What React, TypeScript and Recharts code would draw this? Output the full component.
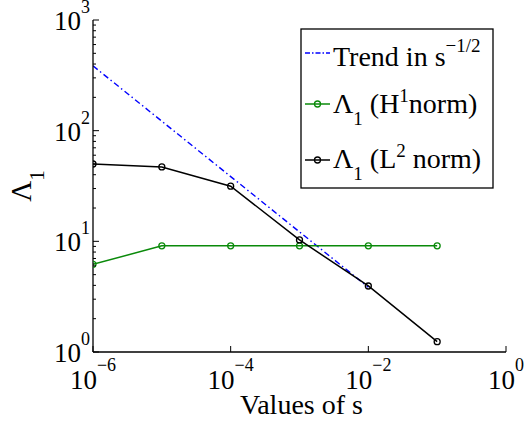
import React from 'react';
import { LineChart, Line, XAxis, YAxis } from 'recharts';

// values of s (x axis, log)
const sValues = [1e-6, 1e-5, 1e-4, 1e-3, 1e-2, 1e-1];
// Lambda_1 in H1 norm (green)
const h1Norm = [6.2, 9.1, 9.1, 9.1, 9.1, 9.1];
// Lambda_1 in L2 norm (black)
const l2Norm = [50, 47, 31.5, 10.3, 3.95, 1.24];
// reference trend in s^-1/2 (blue dash-dot)
const trendS = [1e-6, 1e-2];
const trendValues = [385, 3.85];

const xTicks = [1e-6, 1e-4, 1e-2, 1];
const xTickExp = ['\u22126', '\u22124', '\u22122', '0'];
const yTicks = [
  1, 2, 3, 4, 5, 6, 7, 8, 9,
  10, 20, 30, 40, 50, 60, 70, 80, 90,
  100, 200, 300, 400, 500, 600, 700, 800, 900,
  1000,
];
const yMajor = [1, 10, 100, 1000];
const yTickExp = ['0', '1', '2', '3'];

const serif = { fontFamily: 'Liberation Serif' };
const GREEN = '#0a8a0a';
const BLUE = '#0000ff';

const h1Data = sValues.map((s, i) => ({ s, v: h1Norm[i] }));
const l2Data = sValues.map((s, i) => ({ s, v: l2Norm[i] }));
const trendData = trendS.map((s, i) => ({ s, v: trendValues[i] }));

const LeftTick = (props: any) => {
  const { x, y, payload } = props;
  const i = yMajor.indexOf(payload.value);
  const major = i >= 0;
  return (
    <g>
      <line x1={x} x2={x + (major ? 6 : 3)} y1={y} y2={y} stroke="#000" strokeWidth={1} />
      {major && (
        <text x={x - 3} y={y + 10} textAnchor="end" style={serif} fontSize={27} fill="#000">
          10<tspan dy={-17} fontSize={18}>{yTickExp[i]}</tspan>
        </text>
      )}
    </g>
  );
};

const RightTick = (props: any) => {
  const { x, y, payload } = props;
  const major = yMajor.indexOf(payload.value) >= 0;
  return <line x1={x} x2={x - (major ? 6 : 3)} y1={y} y2={y} stroke="#000" strokeWidth={1} />;
};

const BottomTick = (props: any) => {
  const { x, y, payload } = props;
  const i = xTicks.indexOf(payload.value);
  return (
    <g>
      <line x1={x} x2={x} y1={y} y2={y - 6} stroke="#000" strokeWidth={1} />
      <text x={x} y={y + 37} textAnchor="middle" style={serif} fontSize={27} fill="#000">
        10<tspan dy={-18} fontSize={18}>{xTickExp[i]}</tspan>
      </text>
    </g>
  );
};

const TopTick = (props: any) => {
  const { x, y } = props;
  return <line x1={x} x2={x} y1={y} y2={y + 6} stroke="#000" strokeWidth={1} />;
};

const YLabel = (props: any) => {
  const vb = props.viewBox || { x: 0, y: 20, width: 93, height: 332 };
  const cx = vb.x + 31;
  const cy = vb.y + vb.height / 2;
  return (
    <text transform={`translate(${cx},${cy}) rotate(-90)`} textAnchor="middle" style={serif} fontSize={29} fill="#000">
      Λ<tspan dy={13} fontSize={21}>1</tspan>
    </text>
  );
};

const XLabel = (props: any) => {
  const vb = props.viewBox || { x: 93, y: 352, width: 413, height: 69 };
  return (
    <text x={vb.x + vb.width / 2 + 2} y={vb.y + 62} textAnchor="middle" style={serif} fontSize={28} fill="#000">
      Values of s
    </text>
  );
};

const LegendBox = () => (
  <svg width={524} height={421} style={{ position: 'absolute', left: 0, top: 0, pointerEvents: 'none' }}>
    <rect x={301} y={29} width={192} height={159} fill="#fff" stroke="#000" strokeWidth={1.3} />
    <line x1={305} x2={330} y1={53} y2={53} stroke={BLUE} strokeWidth={1.3} strokeDasharray="5 2 1.5 2" />
    <text x={333} y={66} style={serif} fontSize={28} fill="#000">
      Trend in s<tspan dy={-14} fontSize={19}>{'\u22121/2'}</tspan>
    </text>

    <line x1={305} x2={330} y1={104} y2={104} stroke={GREEN} strokeWidth={1.5} />
    <circle cx={317.5} cy={104} r={3} fill="none" stroke={GREEN} strokeWidth={1.3} />
    <text x={333} y={113} style={serif} fontSize={28} fill="#000">
      Λ<tspan dy={12} fontSize={19}>1</tspan>
      <tspan dy={-12}>{' (H'}</tspan>
      <tspan dy={-11} fontSize={19}>1</tspan>
      <tspan dy={11}>norm)</tspan>
    </text>

    <line x1={305} x2={330} y1={160} y2={160} stroke="#000" strokeWidth={1.5} />
    <circle cx={317.5} cy={160} r={3} fill="none" stroke="#000" strokeWidth={1.3} />
    <text x={333} y={168} style={serif} fontSize={28} fill="#000">
      Λ<tspan dy={12} fontSize={19}>1</tspan>
      <tspan dy={-12}>{' (L'}</tspan>
      <tspan dy={-11} fontSize={19}>2</tspan>
      <tspan dy={11}>{' norm)'}</tspan>
    </text>
  </svg>
);

export default function App() {
  const axisLine = { stroke: '#000', strokeWidth: 1.3 };
  return (
    <div style={{ position: 'absolute', left: 0, top: 0, width: 524, height: 421, background: '#fff' }}>
      <LineChart width={524} height={421} margin={{ top: 20, right: 18, bottom: 0, left: 0 }}>
        <XAxis
          dataKey="s"
          type="number"
          scale="log"
          domain={[1e-6, 1]}
          allowDataOverflow
          ticks={xTicks}
          interval={0}
          height={69}
          tickSize={0}
          tickMargin={0}
          axisLine={axisLine}
          tickLine={false}
          tick={<BottomTick />}
          label={<XLabel />}
        />
        <XAxis
          xAxisId="top"
          orientation="top"
          dataKey="s"
          type="number"
          scale="log"
          domain={[1e-6, 1]}
          allowDataOverflow
          ticks={xTicks}
          interval={0}
          height={0}
          tickSize={0}
          tickMargin={0}
          axisLine={axisLine}
          tickLine={false}
          tick={<TopTick />}
        />
        <YAxis
          type="number"
          scale="log"
          domain={[1, 1000]}
          allowDataOverflow
          ticks={yTicks}
          interval={0}
          width={93}
          tickSize={0}
          tickMargin={0}
          axisLine={axisLine}
          tickLine={false}
          tick={<LeftTick />}
          label={<YLabel />}
        />
        <YAxis
          yAxisId="right"
          orientation="right"
          type="number"
          scale="log"
          domain={[1, 1000]}
          allowDataOverflow
          ticks={yTicks}
          interval={0}
          width={0}
          tickSize={0}
          tickMargin={0}
          axisLine={axisLine}
          tickLine={false}
          tick={<RightTick />}
        />
        <Line
          data={trendData}
          dataKey="v"
          stroke={BLUE}
          strokeWidth={1.4}
          strokeDasharray="6 3 1.5 3"
          dot={false}
          activeDot={false}
          isAnimationActive={false}
        />
        <Line
          data={h1Data}
          dataKey="v"
          stroke={GREEN}
          strokeWidth={1.5}
          dot={{ r: 3, fill: 'none', stroke: GREEN, strokeWidth: 1.3 }}
          activeDot={false}
          isAnimationActive={false}
        />
        <Line
          data={l2Data}
          dataKey="v"
          stroke="#000"
          strokeWidth={1.5}
          dot={{ r: 3, fill: 'none', stroke: '#000', strokeWidth: 1.3 }}
          activeDot={false}
          isAnimationActive={false}
        />
      </LineChart>
      <LegendBox />
    </div>
  );
}
